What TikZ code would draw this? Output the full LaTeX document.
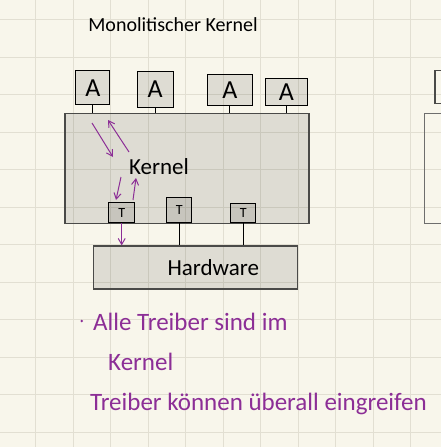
\documentclass[tikz,border=0pt]{standalone}
\usepackage{fontspec}
\setmainfont{Carlito}
\usetikzlibrary{arrows.meta}
\definecolor{paper}{HTML}{F8F6EB}
\definecolor{gridc}{HTML}{E2DFD2}
\definecolor{ink}{HTML}{8C2E96}
\definecolor{frame}{HTML}{4A4A48}

\begin{document}
\begin{tikzpicture}[x=1pt,y=-1pt]

  \tikzstyle{appbox}=[rectangle,draw=black,line width=1.1pt,fill=black,fill opacity=0.1,text opacity=1,inner sep=0pt,font=\fontsize{26}{28}\selectfont]
  \tikzstyle{drvbox}=[rectangle,draw=black,line width=1.1pt,fill=black,fill opacity=0.1,text opacity=1,inner sep=0pt,font=\fontsize{14}{16}\selectfont]
  \tikzstyle{bigbox}=[rectangle,draw=frame,line width=1.2pt,fill=black,fill opacity=0.1,text opacity=1,inner sep=0pt]
  \tikzstyle{note}=[text=ink,anchor=west,inner sep=0pt,font=\fontsize{25}{27}\selectfont]
  \tikzstyle{call}=[ink,line width=1pt,-{Straight Barb[length=6pt,width=7pt]}]

  \clip (0,0) rectangle (441,447);
  \fill[paper] (0,0) rectangle (441,447);
  \foreach \i in {0,...,11} \draw[gridc,line width=1pt] ({-1.7+37.5*\i},0) -- ++(0,447);
  \foreach \i in {0,...,11} \draw[gridc,line width=1pt] (0,{19.8+37.5*\i}) -- ++(441,0);

  \node[font=\fontsize{20}{22}\selectfont] (title) at (173,25) {Monolitischer Kernel};

  \node[appbox,minimum width=34pt,minimum height=34pt] (a1) at (92.8,87.8) {A};
  \node[appbox,minimum width=36pt,minimum height=36pt] (a2) at (155.2,89.5) {A};
  \node[appbox,minimum width=45pt,minimum height=31pt] (a3) at (229.8,89.7) {A};
  \node[appbox,minimum width=42pt,minimum height=27pt] (a4) at (286.3,91.7) {A};

  \node[bigbox,minimum width=244pt,minimum height=110pt] (kernel) at (187,168.3) {};
  \node[font=\fontsize{23}{25}\selectfont] (klabel) at (159,167) {Kernel};

  \node[drvbox,minimum width=26pt,minimum height=20pt,anchor=south] (t1) at (121.7,223.3) {T};
  \node[drvbox,minimum width=25pt,minimum height=25pt,anchor=south] (t2) at (179.2,223.3) {T};
  \node[drvbox,minimum width=25pt,minimum height=19pt,anchor=south] (t3) at (243.3,223.3) {T};

  \node[bigbox,minimum width=204pt,minimum height=43pt,font=\fontsize{23}{25}\selectfont] (hw) at (195.3,267.5) {\hspace*{36pt}Hardware};

  % the next diagram, cut at the edge
  \node[rectangle,draw=frame!80,line width=1.2pt,minimum width=40pt,minimum height=110pt,anchor=north west] (kernel2) at (424,112.7) {};
  \node[rectangle,draw=frame,line width=1.2pt,minimum width=30pt,minimum height=33pt,anchor=north west] (a5) at (434.3,70) {};

  \draw[line width=1pt] (a1.south) -- (a1.south |- kernel.north);
  \draw[line width=1pt] (a2.south) -- (a2.south |- kernel.north);
  \draw[line width=1pt] (a3.south) -- (a3.south |- kernel.north);
  \draw[line width=1pt] (a4.south) -- (a4.south |- kernel.north);
  \draw[line width=1pt] (t2.south) -- (t2.south |- hw.north);
  \draw[line width=1pt] (t3.south) -- (t3.south |- hw.north);

  \coordinate (c1) at (92,123);
  \coordinate (c2) at (113,157);
  \coordinate (c3) at (129,152);
  \coordinate (c4) at (108,120);
  \coordinate (c5) at (121,177);
  \coordinate (c6) at (116,200);
  \coordinate (c7) at (133,200);
  \coordinate (c8) at (136,178);
  \draw[call] (c1) -- (c2);
  \draw[call] (c3) -- (c4);
  \draw[call] (c5) -- (c6);
  \draw[call] (c7) -- (c8);
  \draw[call] (t1.south) -- (t1.south |- hw.north);

  \fill[ink] (81.7,321) circle (1.4pt);
  \node[note] (n1) at (93,322) {Alle Treiber sind im};
  \node[note] (n2) at (108,362) {Kernel};
  \node[note] (n3) at (90,404) {Treiber können überall eingreifen};

\end{tikzpicture}
\end{document}
